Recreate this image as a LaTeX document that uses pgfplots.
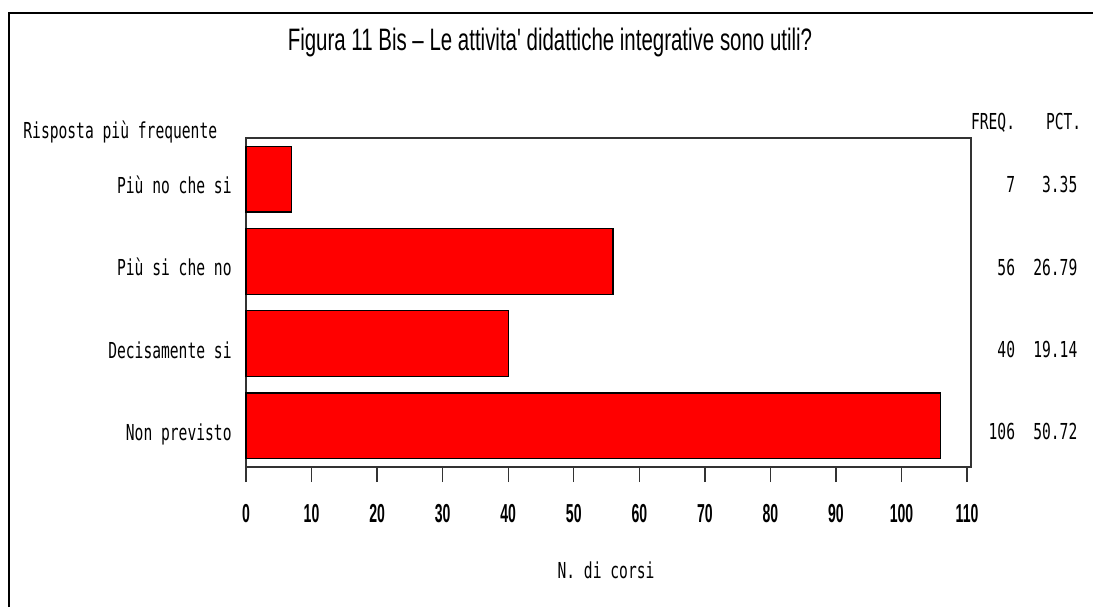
\documentclass[border=0pt]{standalone}
\usepackage{fontspec}
\usepackage{pgfplots}
\pgfplotsset{compat=1.18}
\newfontfamily\titlefont[FakeStretch=0.66]{Liberation Sans}
\newfontfamily\labfont[FakeStretch=0.665]{DejaVu Sans Mono}
\newfontfamily\tickfont[FakeStretch=0.54]{Liberation Sans}
\newcommand{\lab}{\labfont\fontsize{11}{11}\selectfont}
\begin{document}
\begin{tikzpicture}[x=0.5pt,y=0.5pt]
\path[use as bounding box] (0,0) rectangle (1093,607);
\draw[line width=1pt] (9,0) -- (9,594) -- (1093,594);
\begin{axis}[
  at={(123pt,70pt)}, anchor=south west,
  scale only axis, width=362.4pt, height=164.5pt,
  xmin=0, xmax=110.57, ymin=-0.5, ymax=3.5,
  xtick={0,10,...,110}, xtick pos=bottom, xtick align=outside,
  major tick length=7.5pt,
  ytick={0,1,2,3},
  yticklabels={Non previsto,Decisamente si,Più si che no,Più no che si},
  ytick style={draw=none},
  axis line style={black!80,line width=0.7pt},
  every tick/.style={black!80,line width=0.7pt},
  /pgf/number format/assume math mode=true,
  xticklabel style={font=\tickfont\bfseries\fontsize{13}{13}\selectfont,
    anchor=north, inner sep=0pt, yshift=-11pt},
  yticklabel style={font=\lab, anchor=base east, inner sep=0pt,
    xshift=-7pt, yshift=-7.2pt},
  clip=false,
]
\addplot[xbar, fill=red, draw=black, line width=0.6pt, bar width=0.8]
  coordinates {(106,0) (40,1) (56,2) (7,3)};
% colonne FREQ. e PCT.
\node[font=\lab,anchor=base east] at (axis cs:118.4,3.5) [yshift=4.5pt] {FREQ.};
\node[font=\lab,anchor=base east] at (axis cs:128.5,3.5) [yshift=4.5pt] {PCT.};
\node[font=\lab,anchor=base east] at (axis cs:118.4,3) [yshift=-6.9pt] {7};
\node[font=\lab,anchor=base east] at (axis cs:127.9,3) [yshift=-6.9pt] {3.35};
\node[font=\lab,anchor=base east] at (axis cs:118.4,2) [yshift=-6.9pt] {56};
\node[font=\lab,anchor=base east] at (axis cs:127.9,2) [yshift=-6.9pt] {26.79};
\node[font=\lab,anchor=base east] at (axis cs:118.4,1) [yshift=-6.9pt] {40};
\node[font=\lab,anchor=base east] at (axis cs:127.9,1) [yshift=-6.9pt] {19.14};
\node[font=\lab,anchor=base east] at (axis cs:118.4,0) [yshift=-6.9pt] {106};
\node[font=\lab,anchor=base east] at (axis cs:127.9,0) [yshift=-6.9pt] {50.72};
\end{axis}
\node[font=\titlefont\fontsize{15.5}{15.5}\selectfont,anchor=base] at (550,557)
  {Figura 11 Bis – Le attivita' didattiche integrative sono utili?};
\node[font=\lab,anchor=base west,inner sep=0pt] at (23,469) {Risposta più frequente};
\node[font=\lab,anchor=base,inner sep=0pt] at (606,29) {N. di corsi};
\end{tikzpicture}
\end{document}
